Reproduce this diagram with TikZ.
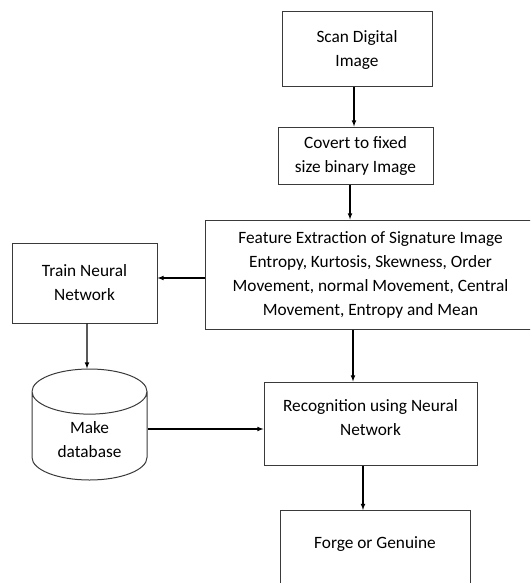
\documentclass[tikz,border=0pt]{standalone}
\usepackage{fontspec}
\setmainfont{Carlito}
\usepackage{tikz}
\usetikzlibrary{shapes.geometric, arrows}
\definecolor{boxLine}{HTML}{3A3A3A}

\begin{document}
\begin{tikzpicture} [
    x=1pt, y=-1pt,
    font=\fontsize{17.3}{24}\selectfont,
    arrowLine/.style={-latex, line width=1.1pt, color=black},
    processBox/.style={rectangle, draw=boxLine, line width=1pt, align=center},
    dataStore/.style={cylinder, shape border rotate=90, aspect=0.64, draw=boxLine, line width=1pt, align=center}
]

\useasboundingbox (0,0) rectangle (530,583);
\clip (0,0) rectangle (530,583);

\node[processBox, minimum width=150pt, minimum height=75pt] (scan) at (357,49.5) {Scan Digital\\Image};

\node[processBox, minimum width=155pt, minimum height=57pt] (convert) at (355.5,155.5) {Covert to fixed\\size binary Image};

\draw[arrowLine] ([xshift=-3pt]scan.south) -- ([xshift=-1.5pt]convert.north);

\node[processBox, minimum width=331pt, minimum height=109pt] (features) at (370.5,274.5) {Feature Extraction of Signature Image\\Entropy, Kurtosis, Skewness, Order\\Movement, normal Movement, Central\\Movement, Entropy and Mean};

\draw[arrowLine] ([xshift=-5.5pt]convert.south) -- ([xshift=-20.5pt]features.north);

\node[processBox, minimum width=145pt, minimum height=80pt] (train) at (84.5,283) {Train Neural\\Network};

\draw[arrowLine] ([yshift=-3.5pt]features.west) -- ([yshift=5pt]train.east);

\node[dataStore, minimum width=115pt, minimum height=111pt, anchor=shape center] (database) at (89.5,424.5) {Make\\database};

\draw[arrowLine] ([xshift=2.5pt]train.south) -- ([xshift=-2.5pt]database.north);

\node[processBox, minimum width=213pt, minimum height=83pt, text depth=13pt] (recognition) at (370.5,423.5) {Recognition using Neural\\Network};

\draw[arrowLine] ([xshift=-17.5pt]features.south) -- ([xshift=-17.5pt]recognition.north);
\draw[arrowLine] ([yshift=-5.5pt]recognition.west -| database.east) -- ([yshift=-5.5pt]recognition.west);

\node[processBox, minimum width=190pt, inner ysep=26pt, text depth=60pt, anchor=north] (result) at (375,510) {Forge or Genuine};

\draw[arrowLine] ([xshift=-7.5pt]recognition.south) -- ([xshift=-12pt]result.north);

\end{tikzpicture}
\end{document}
